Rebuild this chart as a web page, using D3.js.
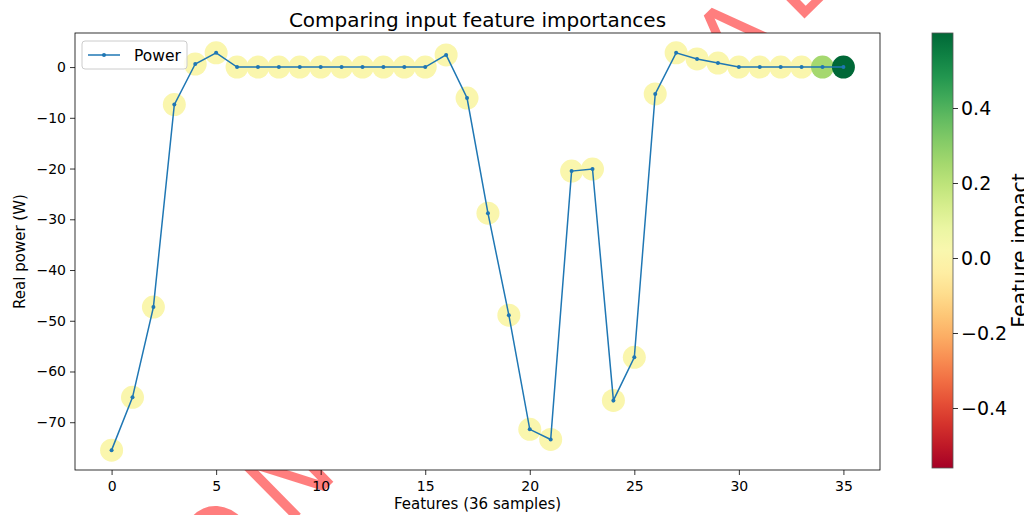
<!DOCTYPE html>
<html>
<head>
<meta charset="utf-8">
<script src="https://cdn.jsdelivr.net/npm/d3@7"></script>
<style>
  body { margin: 0; background: #fff; }
  text { font-family: "DejaVu Sans", sans-serif; }
</style>
</head>
<body>
<div id="chart"></div>
<script>
// DATA
const features = [0, 1, 2, 3, 4, 5, 6, 7, 8, 9, 10, 11, 12, 13, 14, 15, 16, 17,
  18, 19, 20, 21, 22, 23, 24, 25, 26, 27, 28, 29, 30, 31, 32, 33, 34, 35];
const power = [-75.5, -65.1, -47.3, -7.4, 0.6, 2.8, 0, 0, 0, 0, 0, 0, 0, 0, 0, 0,
  2.4, -6.1, -28.8, -48.9, -71.4, -73.4, -20.5, -20.1, -65.7, -57.2, -5.3, 2.8,
  1.6, 0.8, 0, 0, 0, 0, 0, 0];
const impact = [0.01, 0.01, 0.01, 0.01, 0.01, 0.01, 0.01, 0.01, 0.01, 0.01, 0.01, 0.01,
  0.01, 0.01, 0.01, 0.01, 0.01, 0.01, 0.01, 0.01, 0.01, 0.01, 0.01, 0.01, 0.01, 0.01,
  0.01, 0.01, 0.01, 0.01, 0.01, 0.01, 0.01, 0.01, 0.25, 0.6];
const xTicks = [0, 5, 10, 15, 20, 25, 30, 35];
const yTicks = [0, -10, -20, -30, -40, -50, -60, -70];
const cbTicks = [-0.4, -0.2, 0, 0.2, 0.4];
const impactRange = [-0.56, 0.6];

// GLOBALS AND CONSTANTS
const width = 1024;
const height = 515;
const margin = { top: 33, right: 144, bottom: 45, left: 75 };
const plotRight = width - margin.right;
const plotBottom = height - margin.bottom;
const lineColor = '#1f77b4';

const data = features.map((f, i) => ({ f, p: power[i], imp: impact[i] }));

const svg = d3.select('#chart')
  .append('svg')
  .attr('width', width)
  .attr('height', height);

svg.append('rect').attr('width', width).attr('height', height).attr('fill', '#fff');

// WATERMARK (sits behind the axes patch)
svg.append('text')
  .attr('transform', 'translate(502,316) rotate(-44.5)')
  .attr('text-anchor', 'middle')
  .style('font-size', '100px')
  .style('letter-spacing', '20px')
  .attr('fill', 'red')
  .attr('opacity', 0.5)
  .text('CONFIDENTIAL');

// SCALES
const xScale = d3.scaleLinear()
  .domain([-1.75, 36.75])
  .range([margin.left, plotRight]);

const [pMin, pMax] = d3.extent(power);
const pad = (pMax - pMin) * 0.05;
const yScale = d3.scaleLinear()
  .domain([pMin - pad, pMax + pad])
  .range([plotBottom, margin.top]);

const color = d3.scaleSequential(d3.interpolateRdYlGn).domain(impactRange);

// PLOT AREA
svg.append('rect')
  .attr('x', margin.left)
  .attr('y', margin.top)
  .attr('width', plotRight - margin.left)
  .attr('height', plotBottom - margin.top)
  .attr('fill', '#fff');

// IMPACT CIRCLES
svg.selectAll('.impact')
  .data(data)
  .enter()
  .append('circle')
  .attr('class', 'impact')
  .attr('cx', d => xScale(d.f))
  .attr('cy', d => yScale(d.p))
  .attr('r', 11.5)
  .attr('fill', d => color(d.imp));

// POWER LINE
const line = d3.line().x(d => xScale(d.f)).y(d => yScale(d.p));
svg.append('path')
  .datum(data)
  .attr('d', line)
  .attr('fill', 'none')
  .attr('stroke', lineColor)
  .attr('stroke-width', 1.5);

svg.selectAll('.dot')
  .data(data)
  .enter()
  .append('circle')
  .attr('class', 'dot')
  .attr('cx', d => xScale(d.f))
  .attr('cy', d => yScale(d.p))
  .attr('r', 2)
  .attr('fill', lineColor);

// AXES
const xAxis = svg.append('g')
  .attr('transform', `translate(0,${plotBottom})`)
  .call(d3.axisBottom(xScale).tickValues(xTicks).tickFormat(d3.format('d')).tickSize(5).tickPadding(6));
xAxis.select('.domain').remove();
xAxis.selectAll('text').style('font-size', '14px').attr('fill', '#000');
xAxis.selectAll('line').attr('stroke', '#000').attr('stroke-width', 0.8);

const yAxis = svg.append('g')
  .attr('transform', `translate(${margin.left},0)`)
  .call(d3.axisLeft(yScale).tickValues(yTicks).tickFormat(d3.format('d')).tickSize(5).tickPadding(4));
yAxis.select('.domain').remove();
yAxis.selectAll('text').style('font-size', '14px').attr('fill', '#000');
yAxis.selectAll('line').attr('stroke', '#000').attr('stroke-width', 0.8);

svg.append('rect')
  .attr('x', margin.left)
  .attr('y', margin.top)
  .attr('width', plotRight - margin.left)
  .attr('height', plotBottom - margin.top)
  .attr('fill', 'none')
  .attr('stroke', '#000')
  .attr('stroke-width', 0.8);

// LABELS
svg.append('text')
  .attr('x', (margin.left + plotRight) / 2)
  .attr('y', 27)
  .attr('text-anchor', 'middle')
  .style('font-size', '20px')
  .text('Comparing input feature importances');

svg.append('text')
  .attr('x', (margin.left + plotRight) / 2)
  .attr('y', 509)
  .attr('text-anchor', 'middle')
  .style('font-size', '15px')
  .text('Features (36 samples)');

svg.append('text')
  .attr('transform', `translate(25,${(margin.top + plotBottom) / 2}) rotate(-90)`)
  .attr('text-anchor', 'middle')
  .style('font-size', '15px')
  .text('Real power (W)');

// LEGEND
const legend = svg.append('g');
legend.append('rect')
  .attr('x', 82).attr('y', 41).attr('width', 105).attr('height', 28).attr('rx', 3)
  .attr('fill', '#fff').attr('fill-opacity', 0.8)
  .attr('stroke', '#ccc');
legend.append('line')
  .attr('x1', 88).attr('x2', 120).attr('y1', 55).attr('y2', 55)
  .attr('stroke', lineColor).attr('stroke-width', 1.5);
legend.append('circle')
  .attr('cx', 104).attr('cy', 55).attr('r', 2).attr('fill', lineColor);
legend.append('text')
  .attr('x', 134).attr('y', 60.5)
  .style('font-size', '15.5px')
  .text('Power');

// COLORBAR
const cbX = 932, cbW = 21;
const cbScale = d3.scaleLinear().domain(impactRange).range([468, margin.top]);
const grad = svg.append('defs').append('linearGradient')
  .attr('id', 'cbgrad')
  .attr('x1', 0).attr('y1', 1).attr('x2', 0).attr('y2', 0);
d3.range(0, 1.0001, 0.05).forEach(t => {
  grad.append('stop').attr('offset', t).attr('stop-color', d3.interpolateRdYlGn(t));
});
svg.append('rect')
  .attr('x', cbX).attr('y', margin.top)
  .attr('width', cbW).attr('height', 468 - margin.top)
  .attr('fill', 'url(#cbgrad)')
  .attr('stroke', '#555').attr('stroke-width', 0.8);

const cbAxis = svg.append('g')
  .attr('transform', `translate(${cbX + cbW},0)`)
  .call(d3.axisRight(cbScale).tickValues(cbTicks).tickFormat(d3.format('.1f')).tickSize(5).tickPadding(3));
cbAxis.select('.domain').remove();
cbAxis.selectAll('text').style('font-size', '19px').attr('fill', '#000');
cbAxis.selectAll('line').attr('stroke', '#000').attr('stroke-width', 0.8);

svg.append('text')
  .attr('transform', `translate(1027,${(margin.top + 468) / 2}) rotate(-90)`)
  .attr('text-anchor', 'middle')
  .style('font-size', '20.5px')
  .text('Feature impact');
</script>
</body>
</html>
